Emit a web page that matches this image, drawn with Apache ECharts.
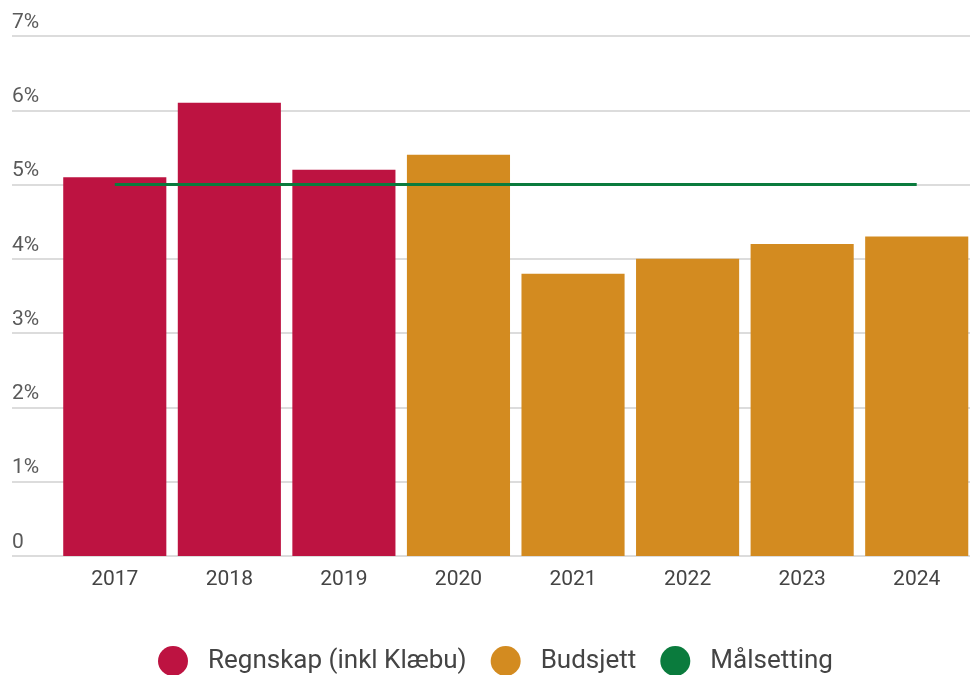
<!DOCTYPE html>
<html>
<head>
<meta charset="utf-8">
<script src="https://cdn.jsdelivr.net/npm/echarts@6/dist/echarts.min.js"></script>
<style>
html,body{margin:0;padding:0;background:#fff;}
#chart{width:970px;height:675px;}
</style>
</head>
<body>
<div id="chart"></div>
<script>
const categories = ['2017','2018','2019','2020','2021','2022','2023','2024'];
const regnskap = [5.1, 6.1, 5.2, null, null, null, null, null];
const budsjett = [null, null, null, 5.4, 3.8, 4.0, 4.2, 4.3];
const malsetting = [5, 5, 5, 5, 5, 5, 5, 5];
const yTicks = [0, 1, 2, 3, 4, 5, 6, 7];

const chart = echarts.init(document.getElementById('chart'), null, {renderer: 'canvas'});
const fontFamily = 'Roboto, "Noto Sans", sans-serif';
chart.setOption({
  backgroundColor: '#ffffff',
  animation: false,
  grid: [
    {left: 12, right: 0, top: 36, bottom: 119, outerBoundsMode: 'none'},
    {left: 57.5, width: 916.5, top: 36, bottom: 119, outerBoundsMode: 'none'}
  ],
  xAxis: [
    {gridIndex: 0, type: 'category', data: categories, show: false},
    {
      gridIndex: 1, type: 'category', data: categories,
      axisLine: {show: false}, axisTick: {show: false},
      axisLabel: {color: '#444', fontSize: 21, fontFamily: fontFamily, margin: 13}
    }
  ],
  yAxis: [
    {
      gridIndex: 0, type: 'value', min: yTicks[0], max: yTicks[yTicks.length - 1], interval: 1,
      axisLine: {show: false}, axisTick: {show: false},
      splitLine: {lineStyle: {color: '#d0d0d0', width: 1.5}},
      axisLabel: {
        inside: true, verticalAlign: 'bottom', align: 'left', margin: 0,
        padding: [0, 0, 3, 0],
        color: '#5a5a5a', fontSize: 21, fontFamily: fontFamily,
        formatter: v => v === 0 ? '0' : v + '%'
      }
    },
    {
      gridIndex: 1, type: 'value', min: yTicks[0], max: yTicks[yTicks.length - 1], interval: 1,
      show: false, splitLine: {show: false}
    }
  ],
  legend: {
    bottom: -6, left: 153,
    icon: 'circle', itemWidth: 30, itemHeight: 30, itemGap: 24,
    textStyle: {color: '#444', fontSize: 26, fontFamily: fontFamily, padding: [0, 0, 0, 15]},
    data: ['Regnskap (inkl Klæbu)', 'Budsjett', 'Målsetting']
  },
  series: [
    {
      name: 'Regnskap (inkl Klæbu)', type: 'bar', xAxisIndex: 1, yAxisIndex: 1,
      stack: 'a', data: regnskap, barCategoryGap: '10%',
      itemStyle: {color: '#BD1341'}
    },
    {
      name: 'Budsjett', type: 'bar', xAxisIndex: 1, yAxisIndex: 1,
      stack: 'a', data: budsjett, barCategoryGap: '10%',
      itemStyle: {color: '#D38B20'}
    },
    {
      name: 'Målsetting', type: 'line', xAxisIndex: 1, yAxisIndex: 1,
      data: malsetting, showSymbol: false, symbol: 'circle', z: 5,
      lineStyle: {color: '#0A7B3D', width: 3},
      itemStyle: {color: '#0A7B3D'}
    }
  ]
});
</script>
</body>
</html>
